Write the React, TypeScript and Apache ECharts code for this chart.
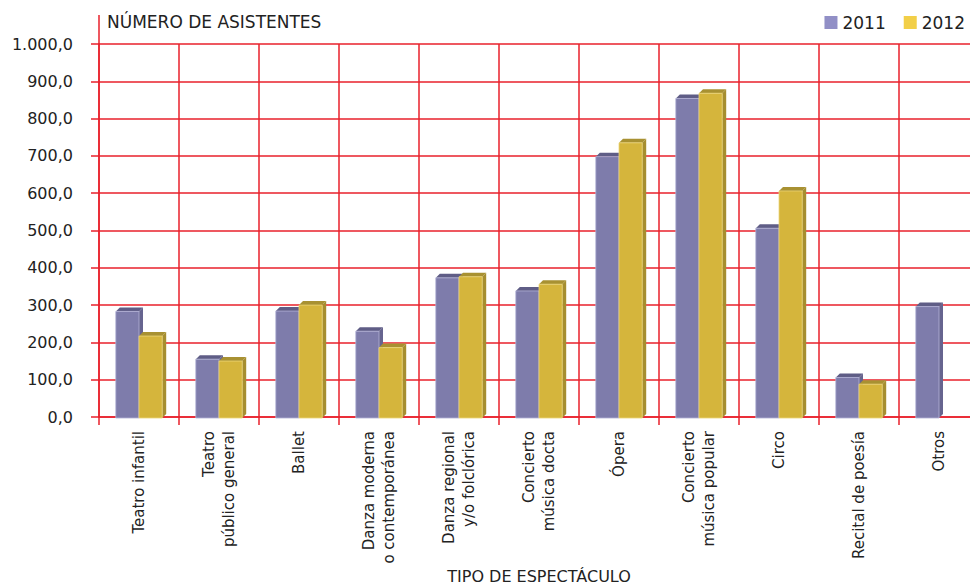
import React, { useEffect, useRef } from "react";
import * as echarts from "echarts";

const categories = [
  "Teatro infantil",
  "Teatro\npúblico general",
  "Ballet",
  "Danza moderna\no contemporánea",
  "Danza regional\ny/o folclórica",
  "Concierto\nmúsica docta",
  "Ópera",
  "Concierto\nmúsica popular",
  "Circo",
  "Recital de poesía",
  "Otros",
];
const values2011: (number | null)[] = [283, 155, 284, 230, 373, 338, 698, 854, 506, 106, 296];
const values2012: (number | null)[] = [217, 150, 300, 186, 376, 356, 735, 868, 606, 88, null];
const seriesNames = ["2011", "2012"];
const yTicks = { min: 0, max: 1000, interval: 100 };

const RED = "#e8212b";
const FONT = "DejaVu Sans";

const faceColors = [
  { front: "#7e7cab", top: "#5f5d86", side: "#66648f", edge: "#b3b1d6", legend: "#918fc6" },
  { front: "#d5b53c", top: "#a89132", side: "#a68e30", edge: "#ecd67a", legend: "#f2cf48" },
];

function fmt(v: number) {
  const [i, d] = v.toFixed(1).split(".");
  return i.replace(/\B(?=(\d{3})+$)/g, ".") + "," + d;
}

function makeSeries(s: number, values: (number | null)[]) {
  const c = faceColors[s];
  const data = values
    .map((v, i) => (v == null ? null : [i, v]))
    .filter((d) => d !== null);
  return {
    name: seriesNames[s],
    type: "custom",
    itemStyle: { color: c.legend },
    encode: { x: 0, y: 1 },
    data,
    renderItem: (params: any, api: any) => {
      const idx = api.value(0);
      const v = api.value(1);
      const top = api.coord([idx, v]);
      const base = api.coord([idx, 0]);
      const catW = api.size([1, 0])[0];
      const w = catW * 0.29;
      const x0 = s === 0 ? top[0] - w : top[0];
      const d = 4;
      const ty = top[1];
      const by = base[1] + 1;
      return {
        type: "group",
        children: [
          {
            type: "polygon",
            shape: {
              points: [
                [x0 + w, ty],
                [x0 + w + d, ty - d],
                [x0 + w + d, by - d],
                [x0 + w, by],
              ],
            },
            style: { fill: c.side },
          },
          {
            type: "polygon",
            shape: {
              points: [
                [x0, ty],
                [x0 + d, ty - d],
                [x0 + w + d, ty - d],
                [x0 + w, ty],
              ],
            },
            style: { fill: c.top },
          },
          {
            type: "rect",
            shape: { x: x0, y: ty, width: w, height: by - ty },
            style: { fill: c.front, stroke: c.edge, lineWidth: 0.8 },
          },
        ],
      };
    },
  };
}

export default function App() {
  const ref = useRef<HTMLDivElement>(null);
  useEffect(() => {
    if (!ref.current) return;
    const chart = echarts.init(ref.current, null, { renderer: "svg" });
    chart.setOption({
      animation: false,
      backgroundColor: "#ffffff",
      textStyle: { fontFamily: FONT },
      grid: {
        left: 99,
        right: -9,
        top: 44,
        bottom: 168,
        containLabel: false,
        outerBoundsMode: "none",
      },
      legend: {
        right: 0,
        top: 9,
        itemWidth: 13,
        itemHeight: 13,
        itemGap: 18,
        icon: "rect",
        textStyle: { fontSize: 17, color: "#222", fontFamily: FONT },
        data: seriesNames.map((n, i) => ({ name: n, itemStyle: { color: faceColors[i].legend } })),
      },
      xAxis: {
        type: "category",
        data: categories,
        boundaryGap: true,
        name: "TIPO DE ESPECTÁCULO",
        nameLocation: "middle",
        nameGap: 151,
        nameMoveOverlap: false,
        nameTextStyle: { fontSize: 16, color: "#222", fontFamily: FONT },
        axisLine: { show: true, lineStyle: { color: RED, width: 1.5 } },
        axisTick: { show: true, length: 8, lineStyle: { color: RED, width: 1.5 } },
        splitLine: { show: true, lineStyle: { color: RED, width: 1.5 } },
        axisLabel: {
          rotate: 90,
          margin: 14,
          interval: 0,
          fontSize: 15,
          lineHeight: 20,
          color: "#222",
          fontFamily: FONT,
        },
      },
      yAxis: {
        type: "value",
        min: yTicks.min,
        max: yTicks.max,
        interval: yTicks.interval,
        name: "NÚMERO DE ASISTENTES",
        nameLocation: "end",
        nameGap: 14,
        nameTextStyle: { fontSize: 17, color: "#222", align: "left", padding: [0, 0, 0, 8], fontFamily: FONT },
        axisLine: { show: true, lineStyle: { color: RED, width: 1.5 } },
        axisTick: { show: true, length: 8, lineStyle: { color: RED, width: 1.5 } },
        splitLine: { show: true, lineStyle: { color: RED, width: 1.5 } },
        axisLabel: {
          margin: 26,
          fontSize: 16,
          color: "#222",
          fontFamily: FONT,
          formatter: (v: number) => fmt(v),
        },
      },
      graphic: [
        {
          type: "line",
          shape: { x1: 99, y1: 15, x2: 99, y2: 44 },
          style: { stroke: RED, lineWidth: 1.5 },
        },
      ],
      series: [makeSeries(0, values2011), makeSeries(1, values2012)],
    });
    return () => chart.dispose();
  }, []);
  return (
    <div
      ref={ref}
      style={{ position: "fixed", left: 0, top: 0, width: 970, height: 585 }}
    />
  );
}
